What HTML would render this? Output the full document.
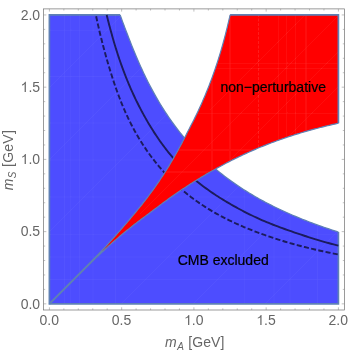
<!DOCTYPE html>
<html lang="en">
<head>
<meta charset="utf-8">
<title>Region plot</title>
<style>
html,body{margin:0;padding:0;background:#fff;}
body{width:349px;height:351px;overflow:hidden;font-family:"Liberation Sans",sans-serif;}
svg{display:block;will-change:transform;}
svg text{font-family:"Liberation Sans",sans-serif;}
</style>
</head>
<body>
<svg width="349" height="351" viewBox="0 0 349 351">
<rect x="0" y="0" width="349" height="351" fill="#ffffff"/>
<defs><filter id="soft" x="0" y="0" width="349" height="351" filterUnits="userSpaceOnUse"><feGaussianBlur stdDeviation="0.32"/></filter></defs>
<g filter="url(#soft)">
<!-- CMB excluded region -->
<path d="M49.40 303.85 L49.40 14.95 L120.17 14.95 L120.62 16.19 L121.47 18.54 L122.33 20.88 L123.20 23.21 L124.07 25.54 L124.95 27.87 L125.83 30.19 L126.72 32.51 L127.62 34.84 L128.52 37.16 L129.42 39.48 L130.33 41.80 L131.24 44.11 L132.16 46.42 L133.09 48.71 L134.02 51.00 L134.96 53.28 L135.90 55.55 L136.86 57.80 L137.82 60.04 L138.79 62.27 L139.77 64.48 L140.76 66.68 L141.75 68.87 L142.76 71.03 L143.77 73.19 L144.79 75.33 L145.82 77.45 L146.86 79.56 L147.91 81.66 L148.97 83.73 L150.04 85.80 L151.12 87.85 L152.21 89.88 L153.30 91.90 L154.41 93.91 L155.52 95.89 L156.65 97.87 L157.79 99.83 L158.93 101.77 L160.09 103.70 L161.26 105.61 L162.44 107.51 L163.62 109.39 L164.82 111.26 L166.03 113.11 L167.25 114.95 L168.49 116.77 L169.73 118.57 L170.98 120.37 L172.25 122.14 L173.53 123.91 L174.82 125.65 L176.12 127.39 L177.43 129.11 L178.75 130.81 L180.09 132.51 L181.43 134.18 L182.79 135.85 L184.16 137.50 L185.54 139.13 L186.94 140.75 L188.35 142.36 L189.76 143.96 L191.20 145.54 L192.64 147.11 L194.10 148.67 L195.56 150.21 L197.05 151.74 L198.54 153.26 L200.05 154.76 L201.56 156.25 L203.10 157.73 L204.64 159.20 L206.20 160.65 L207.77 162.10 L209.35 163.53 L210.95 164.94 L212.56 166.35 L214.19 167.74 L215.82 169.13 L217.48 170.49 L219.14 171.85 L220.82 173.20 L222.51 174.53 L224.22 175.86 L225.94 177.17 L227.67 178.47 L229.42 179.76 L231.18 181.03 L232.96 182.30 L234.75 183.56 L236.55 184.80 L238.37 186.03 L240.21 187.26 L242.06 188.47 L243.92 189.67 L245.80 190.86 L247.69 192.04 L249.60 193.21 L251.53 194.37 L253.46 195.52 L255.42 196.65 L257.39 197.78 L259.37 198.90 L261.37 200.01 L263.39 201.11 L265.42 202.19 L267.47 203.27 L269.53 204.34 L271.61 205.40 L273.70 206.45 L275.81 207.49 L277.94 208.51 L280.08 209.53 L282.24 210.55 L284.42 211.55 L286.61 212.54 L288.82 213.52 L291.05 214.50 L293.29 215.46 L295.55 216.42 L297.82 217.36 L300.12 218.30 L302.42 219.23 L304.75 220.15 L307.09 221.06 L309.45 221.97 L311.83 222.86 L314.22 223.75 L316.63 224.63 L319.05 225.50 L321.49 226.37 L323.95 227.22 L326.42 228.07 L328.91 228.91 L331.41 229.74 L333.93 230.57 L336.47 231.38 L338.40 232.00 L338.40 303.85 Z" fill="#4d4dff"/>
<path d="M120.17 14.95 L120.62 16.19 L121.47 18.54 L122.33 20.88 L123.20 23.21 L124.07 25.54 L124.95 27.87 L125.83 30.19 L126.72 32.51 L127.62 34.84 L128.52 37.16 L129.42 39.48 L130.33 41.80 L131.24 44.11 L132.16 46.42 L133.09 48.71 L134.02 51.00 L134.96 53.28 L135.90 55.55 L136.86 57.80 L137.82 60.04 L138.79 62.27 L139.77 64.48 L140.76 66.68 L141.75 68.87 L142.76 71.03 L143.77 73.19 L144.79 75.33 L145.82 77.45 L146.86 79.56 L147.91 81.66 L148.97 83.73 L150.04 85.80 L151.12 87.85 L152.21 89.88 L153.30 91.90 L154.41 93.91 L155.52 95.89 L156.65 97.87 L157.79 99.83 L158.93 101.77 L160.09 103.70 L161.26 105.61 L162.44 107.51 L163.62 109.39 L164.82 111.26 L166.03 113.11 L167.25 114.95 L168.49 116.77 L169.73 118.57 L170.98 120.37 L172.25 122.14 L173.53 123.91 L174.82 125.65 L176.12 127.39 L177.43 129.11 L178.75 130.81 L180.09 132.51 L181.43 134.18 L182.79 135.85 L184.16 137.50 L185.54 139.13 L186.94 140.75 L188.35 142.36 L189.76 143.96 L191.20 145.54 L192.64 147.11 L194.10 148.67 L195.56 150.21 L197.05 151.74 L198.54 153.26 L200.05 154.76 L201.56 156.25 L203.10 157.73 L204.64 159.20 L206.20 160.65 L207.77 162.10 L209.35 163.53 L210.95 164.94 L212.56 166.35 L214.19 167.74 L215.82 169.13 L217.48 170.49 L219.14 171.85 L220.82 173.20 L222.51 174.53 L224.22 175.86 L225.94 177.17 L227.67 178.47 L229.42 179.76 L231.18 181.03 L232.96 182.30 L234.75 183.56 L236.55 184.80 L238.37 186.03 L240.21 187.26 L242.06 188.47 L243.92 189.67 L245.80 190.86 L247.69 192.04 L249.60 193.21 L251.53 194.37 L253.46 195.52 L255.42 196.65 L257.39 197.78 L259.37 198.90 L261.37 200.01 L263.39 201.11 L265.42 202.19 L267.47 203.27 L269.53 204.34 L271.61 205.40 L273.70 206.45 L275.81 207.49 L277.94 208.51 L280.08 209.53 L282.24 210.55 L284.42 211.55 L286.61 212.54 L288.82 213.52 L291.05 214.50 L293.29 215.46 L295.55 216.42 L297.82 217.36 L300.12 218.30 L302.42 219.23 L304.75 220.15 L307.09 221.06 L309.45 221.97 L311.83 222.86 L314.22 223.75 L316.63 224.63 L319.05 225.50 L321.49 226.37 L323.95 227.22 L326.42 228.07 L328.91 228.91 L331.41 229.74 L333.93 230.57 L336.47 231.38 L338.40 232.00" fill="none" stroke="#5e81b5" stroke-width="1.2"/>
<path d="M338.40 232.00 L338.40 303.85 L49.40 303.85 L49.40 14.95 L120.17 14.95" fill="none" stroke="#5e81b5" stroke-width="1.7" stroke-linejoin="miter"/>
<!-- faint triangulation artefacts inside the filled regions -->
<clipPath id="cb"><path d="M49.40 303.85 L49.40 14.95 L120.17 14.95 L120.62 16.19 L121.47 18.54 L122.33 20.88 L123.20 23.21 L124.07 25.54 L124.95 27.87 L125.83 30.19 L126.72 32.51 L127.62 34.84 L128.52 37.16 L129.42 39.48 L130.33 41.80 L131.24 44.11 L132.16 46.42 L133.09 48.71 L134.02 51.00 L134.96 53.28 L135.90 55.55 L136.86 57.80 L137.82 60.04 L138.79 62.27 L139.77 64.48 L140.76 66.68 L141.75 68.87 L142.76 71.03 L143.77 73.19 L144.79 75.33 L145.82 77.45 L146.86 79.56 L147.91 81.66 L148.97 83.73 L150.04 85.80 L151.12 87.85 L152.21 89.88 L153.30 91.90 L154.41 93.91 L155.52 95.89 L156.65 97.87 L157.79 99.83 L158.93 101.77 L160.09 103.70 L161.26 105.61 L162.44 107.51 L163.62 109.39 L164.82 111.26 L166.03 113.11 L167.25 114.95 L168.49 116.77 L169.73 118.57 L170.98 120.37 L172.25 122.14 L173.53 123.91 L174.82 125.65 L176.12 127.39 L177.43 129.11 L178.75 130.81 L180.09 132.51 L181.43 134.18 L182.79 135.85 L184.16 137.50 L185.54 139.13 L186.94 140.75 L188.35 142.36 L189.76 143.96 L191.20 145.54 L192.64 147.11 L194.10 148.67 L195.56 150.21 L197.05 151.74 L198.54 153.26 L200.05 154.76 L201.56 156.25 L203.10 157.73 L204.64 159.20 L206.20 160.65 L207.77 162.10 L209.35 163.53 L210.95 164.94 L212.56 166.35 L214.19 167.74 L215.82 169.13 L217.48 170.49 L219.14 171.85 L220.82 173.20 L222.51 174.53 L224.22 175.86 L225.94 177.17 L227.67 178.47 L229.42 179.76 L231.18 181.03 L232.96 182.30 L234.75 183.56 L236.55 184.80 L238.37 186.03 L240.21 187.26 L242.06 188.47 L243.92 189.67 L245.80 190.86 L247.69 192.04 L249.60 193.21 L251.53 194.37 L253.46 195.52 L255.42 196.65 L257.39 197.78 L259.37 198.90 L261.37 200.01 L263.39 201.11 L265.42 202.19 L267.47 203.27 L269.53 204.34 L271.61 205.40 L273.70 206.45 L275.81 207.49 L277.94 208.51 L280.08 209.53 L282.24 210.55 L284.42 211.55 L286.61 212.54 L288.82 213.52 L291.05 214.50 L293.29 215.46 L295.55 216.42 L297.82 217.36 L300.12 218.30 L302.42 219.23 L304.75 220.15 L307.09 221.06 L309.45 221.97 L311.83 222.86 L314.22 223.75 L316.63 224.63 L319.05 225.50 L321.49 226.37 L323.95 227.22 L326.42 228.07 L328.91 228.91 L331.41 229.74 L333.93 230.57 L336.47 231.38 L338.40 232.00 L338.40 303.85 Z"/></clipPath>
<clipPath id="cr"><path d="M49.40 303.85 L51.21 302.04 L53.01 300.24 L54.82 298.43 L56.62 296.63 L58.42 294.82 L60.23 293.02 L62.03 291.21 L63.83 289.41 L65.63 287.60 L67.44 285.79 L69.24 283.99 L71.04 282.18 L72.83 280.38 L74.63 278.57 L76.43 276.77 L78.23 274.96 L80.02 273.15 L81.82 271.35 L83.62 269.54 L85.41 267.74 L87.19 265.93 L88.96 264.13 L90.71 262.32 L92.46 260.52 L94.20 258.71 L95.93 256.90 L97.64 255.10 L99.34 253.29 L101.04 251.49 L102.71 249.68 L104.38 247.88 L106.03 246.07 L107.67 244.26 L109.32 242.46 L110.96 240.65 L112.59 238.85 L114.22 237.04 L115.84 235.24 L117.45 233.43 L119.05 231.63 L120.64 229.82 L122.22 228.01 L123.78 226.21 L125.34 224.40 L126.88 222.60 L128.42 220.79 L129.95 218.99 L131.48 217.18 L132.99 215.37 L134.50 213.57 L136.00 211.76 L137.49 209.96 L138.97 208.15 L140.44 206.35 L141.89 204.54 L143.32 202.74 L144.74 200.93 L146.14 199.12 L147.51 197.32 L148.87 195.51 L150.22 193.71 L151.54 191.90 L152.86 190.10 L154.16 188.29 L155.45 186.48 L156.72 184.68 L157.97 182.87 L159.20 181.07 L160.42 179.26 L161.62 177.46 L162.81 175.65 L163.99 173.85 L165.15 172.04 L166.29 170.23 L167.41 168.43 L168.51 166.62 L169.60 164.82 L170.67 163.01 L171.74 161.21 L172.80 159.40 L173.86 157.59 L174.89 155.79 L175.92 153.98 L176.94 152.18 L177.94 150.37 L178.93 148.57 L179.92 146.76 L180.90 144.96 L181.86 143.15 L182.81 141.34 L183.74 139.54 L184.67 137.73 L185.59 135.93 L186.50 134.12 L187.42 132.32 L188.34 130.51 L189.27 128.70 L190.21 126.90 L191.14 125.09 L192.08 123.29 L193.00 121.48 L193.92 119.68 L194.83 117.87 L195.72 116.07 L196.59 114.26 L197.45 112.45 L198.30 110.65 L199.14 108.84 L199.97 107.04 L200.79 105.23 L201.60 103.43 L202.40 101.62 L203.19 99.81 L203.97 98.01 L204.74 96.20 L205.49 94.40 L206.24 92.59 L206.98 90.79 L207.70 88.98 L208.42 87.18 L209.13 85.37 L209.83 83.56 L210.52 81.76 L211.20 79.95 L211.87 78.15 L212.53 76.34 L213.18 74.54 L213.82 72.73 L214.45 70.92 L215.08 69.12 L215.69 67.31 L216.29 65.51 L216.89 63.70 L217.48 61.90 L218.06 60.09 L218.63 58.29 L219.19 56.48 L219.75 54.67 L220.29 52.87 L220.83 51.06 L221.36 49.26 L221.88 47.45 L222.39 45.65 L222.90 43.84 L223.40 42.03 L223.89 40.23 L224.38 38.42 L224.85 36.62 L225.32 34.81 L225.79 33.01 L226.24 31.20 L226.70 29.40 L227.14 27.59 L227.58 25.78 L228.01 23.98 L228.44 22.17 L228.86 20.37 L229.27 18.56 L229.68 16.76 L230.08 14.95 L338.40 14.95 L338.40 123.23 L336.59 123.63 L334.79 124.04 L332.98 124.45 L331.18 124.87 L329.37 125.30 L327.56 125.73 L325.76 126.17 L323.95 126.62 L322.14 127.07 L320.34 127.52 L318.53 127.99 L316.72 128.46 L314.92 128.93 L313.11 129.42 L311.31 129.91 L309.50 130.41 L307.69 130.92 L305.89 131.43 L304.08 131.95 L302.27 132.48 L300.47 133.02 L298.66 133.56 L296.86 134.12 L295.05 134.68 L293.24 135.25 L291.44 135.83 L289.63 136.42 L287.82 137.01 L286.02 137.62 L284.21 138.23 L282.41 138.85 L280.60 139.49 L278.79 140.13 L276.99 140.78 L275.18 141.44 L273.38 142.11 L271.57 142.79 L269.76 143.47 L267.96 144.17 L266.15 144.88 L264.34 145.60 L262.54 146.33 L260.73 147.06 L258.93 147.81 L257.12 148.57 L255.31 149.33 L253.51 150.11 L251.70 150.90 L249.89 151.70 L248.09 152.51 L246.28 153.33 L244.48 154.16 L242.67 155.00 L240.86 155.85 L239.06 156.71 L237.25 157.59 L235.44 158.47 L233.64 159.36 L231.83 160.27 L230.03 161.18 L228.22 162.11 L226.41 163.04 L224.61 163.99 L222.80 164.95 L220.99 165.93 L219.19 166.91 L217.38 167.90 L215.58 168.90 L213.77 169.91 L211.96 170.94 L210.16 171.98 L208.35 173.03 L206.54 174.09 L204.74 175.16 L202.93 176.24 L201.12 177.33 L199.32 178.43 L197.51 179.54 L195.71 180.67 L193.90 181.80 L192.09 182.95 L190.29 184.11 L188.48 185.28 L186.68 186.46 L184.87 187.65 L183.06 188.85 L181.26 190.06 L179.45 191.29 L177.64 192.53 L175.84 193.77 L174.03 195.03 L172.23 196.29 L170.42 197.57 L168.61 198.85 L166.81 200.15 L165.00 201.46 L163.19 202.79 L161.39 204.14 L159.58 205.49 L157.78 206.86 L155.97 208.23 L154.16 209.60 L152.36 210.97 L150.55 212.33 L148.74 213.68 L146.94 215.02 L145.13 216.37 L143.32 217.71 L141.52 219.06 L139.71 220.42 L137.91 221.79 L136.10 223.17 L134.29 224.58 L132.49 226.00 L130.68 227.43 L128.88 228.88 L127.07 230.34 L125.26 231.81 L123.46 233.29 L121.65 234.80 L119.84 236.33 L118.04 237.87 L116.23 239.41 L114.43 240.97 L112.62 242.54 L110.81 244.13 L109.01 245.74 L107.20 247.38 L105.39 249.04 L103.59 250.71 L101.78 252.38 L99.97 254.05 L98.17 255.72 L96.36 257.39 L94.56 259.08 L92.75 260.80 L90.94 262.55 L89.14 264.30 L87.33 266.07 L85.53 267.85 L83.72 269.65 L81.91 271.44 L80.11 273.24 L78.30 275.03 L76.49 276.83 L74.69 278.63 L72.88 280.42 L71.08 282.22 L69.27 284.02 L67.46 285.82 L65.66 287.62 L63.85 289.42 L62.04 291.22 L60.24 293.03 L58.43 294.83 L56.62 296.63 L54.82 298.44 L53.01 300.24 L51.21 302.04 L49.40 303.85 Z"/></clipPath>
<g clip-path="url(#cb)" stroke="#ffffff" stroke-opacity="0.045" stroke-width="0.9" fill="none">
<path d="M64.5 14V304 M79.4 14V304 M70.8 14V304 M93.1 14V304 M115.5 14V304 M244.2 150V304 M274 150V304 M290 150V304 M317.6 150V304"/>
<path d="M49 30.2H200 M49 76.5H200 M49 196.9H339 M49 234.7H339 M49 257H339 M49 279.4H339 M49 123H200 M49 160H200"/>
<path d="M49 160L195 14 M49 232L267 14 M49 88L123 14 M121 304L339 86 M193 304L339 158 M265 304L339 230"/>
</g>
<!-- contour lines -->
<path d="M106.69 14.95 L107.06 16.42 L107.73 19.11 L108.41 21.79 L109.09 24.45 L109.78 27.08 L110.48 29.70 L111.19 32.29 L111.90 34.87 L112.62 37.42 L113.35 39.96 L114.08 42.47 L114.83 44.96 L115.58 47.43 L116.34 49.88 L117.11 52.31 L117.88 54.71 L118.67 57.09 L119.46 59.45 L120.26 61.79 L121.07 64.11 L121.90 66.41 L122.72 68.68 L123.56 70.93 L124.41 73.17 L125.27 75.38 L126.13 77.58 L127.01 79.75 L127.89 81.91 L128.79 84.05 L129.69 86.17 L130.60 88.27 L131.52 90.36 L132.45 92.43 L133.39 94.48 L134.34 96.52 L135.30 98.54 L136.27 100.54 L137.24 102.53 L138.23 104.50 L139.22 106.46 L140.23 108.40 L141.24 110.33 L142.26 112.25 L143.29 114.15 L144.33 116.03 L145.38 117.90 L146.44 119.76 L147.51 121.61 L148.58 123.44 L149.67 125.25 L150.77 127.05 L151.87 128.84 L152.99 130.61 L154.11 132.37 L155.25 134.11 L156.39 135.84 L157.55 137.55 L158.72 139.25 L159.89 140.94 L161.08 142.61 L162.28 144.26 L163.49 145.91 L164.72 147.53 L165.95 149.14 L167.19 150.74 L168.45 152.32 L169.72 153.89 L171.00 155.44 L172.30 156.98 L173.60 158.51 L174.92 160.01 L176.26 161.51 L177.60 162.99 L178.96 164.45 L180.34 165.90 L181.72 167.34 L183.12 168.76 L184.54 170.17 L185.97 171.56 L187.42 172.94 L188.88 174.30 L190.36 175.65 L191.85 176.98 L193.36 178.30 L194.89 179.61 L196.43 180.90 L197.99 182.18 L199.57 183.45 L201.16 184.70 L202.77 185.94 L204.40 187.16 L206.04 188.38 L207.70 189.58 L209.37 190.77 L211.07 191.95 L212.77 193.12 L214.50 194.28 L216.24 195.42 L217.99 196.56 L219.76 197.69 L221.54 198.81 L223.34 199.91 L225.16 201.01 L226.99 202.10 L228.83 203.18 L230.68 204.26 L232.55 205.32 L234.44 206.38 L236.33 207.43 L238.24 208.47 L240.16 209.50 L242.09 210.53 L244.04 211.54 L246.00 212.55 L247.97 213.55 L249.96 214.54 L251.97 215.52 L254.00 216.49 L256.05 217.45 L258.11 218.40 L260.20 219.34 L262.31 220.27 L264.44 221.19 L266.60 222.09 L268.78 222.99 L270.98 223.87 L273.21 224.75 L275.45 225.62 L277.72 226.47 L280.01 227.32 L282.31 228.17 L284.63 229.00 L286.96 229.83 L289.31 230.65 L291.66 231.47 L294.03 232.28 L296.40 233.09 L298.78 233.89 L301.17 234.69 L303.56 235.49 L305.97 236.27 L308.39 237.05 L310.82 237.83 L313.27 238.60 L315.73 239.35 L318.22 240.11 L320.72 240.85 L323.25 241.58 L325.80 242.31 L328.38 243.03 L330.98 243.74 L333.62 244.43 L336.29 245.12 L338.40 245.65" fill="none" stroke="#1b1b5c" stroke-width="1.9"/>
<path d="M96.15 16.32 L96.71 18.94 L97.27 21.53 L97.84 24.11 L98.42 26.66 L99.00 29.18 L99.59 31.69 L100.19 34.18 L100.79 36.65 L101.40 39.10 L102.02 41.54 L102.64 43.96 L103.27 46.36 L103.90 48.74 L104.54 51.11 L105.19 53.47 L105.84 55.81 L106.49 58.14 L107.16 60.45 L107.82 62.76 L108.50 65.05 L109.18 67.32 L109.86 69.58 L110.55 71.83 L111.25 74.06 L111.95 76.28 L112.66 78.48 L113.38 80.66 L114.10 82.83 L114.83 84.98 L115.57 87.12 L116.32 89.24 L117.07 91.34 L117.83 93.42 L118.59 95.48 L119.37 97.53 L120.15 99.56 L120.94 101.57 L121.74 103.56 L122.55 105.53 L123.37 107.48 L124.19 109.41 L125.03 111.33 L125.88 113.22 L126.73 115.10 L127.59 116.96 L128.47 118.79 L129.35 120.62 L130.25 122.42 L131.15 124.21 L132.06 125.98 L132.98 127.73 L133.92 129.47 L134.86 131.19 L135.81 132.89 L136.77 134.58 L137.74 136.26 L138.73 137.92 L139.72 139.56 L140.72 141.19 L141.73 142.80 L142.76 144.40 L143.79 145.99 L144.83 147.56 L145.89 149.12 L146.95 150.67 L148.02 152.20 L149.11 153.72 L150.20 155.23 L151.31 156.72 L152.42 158.20 L153.55 159.67 L154.69 161.13 L155.83 162.57 L156.99 164.01 L158.15 165.43 L159.33 166.84 L160.52 168.24 L161.72 169.62 L162.93 170.99 L164.15 172.36 L165.39 173.71 L166.63 175.04 L167.88 176.37 L169.15 177.69 L170.43 178.99 L171.72 180.28 L173.03 181.56 L174.34 182.83 L175.67 184.08 L177.01 185.33 L178.36 186.56 L179.73 187.78 L181.11 188.99 L182.50 190.19 L183.90 191.38 L185.32 192.55 L186.75 193.72 L188.20 194.87 L189.66 196.01 L191.14 197.15 L192.62 198.27 L194.13 199.38 L195.65 200.47 L197.18 201.56 L198.73 202.64 L200.29 203.71 L201.87 204.76 L203.46 205.81 L205.07 206.84 L206.69 207.87 L208.33 208.89 L209.98 209.89 L211.65 210.89 L213.34 211.88 L215.04 212.85 L216.76 213.82 L218.49 214.78 L220.24 215.73 L222.00 216.67 L223.79 217.60 L225.58 218.52 L227.40 219.43 L229.23 220.34 L231.08 221.23 L232.94 222.12 L234.83 223.00 L236.72 223.87 L238.64 224.73 L240.57 225.58 L242.52 226.43 L244.49 227.26 L246.48 228.09 L248.48 228.91 L250.50 229.73 L252.53 230.53 L254.59 231.33 L256.66 232.12 L258.75 232.90 L260.86 233.68 L262.99 234.44 L265.13 235.21 L267.30 235.96 L269.48 236.70 L271.68 237.44 L273.90 238.17 L276.14 238.90 L278.40 239.61 L280.68 240.32 L282.98 241.02 L285.30 241.72 L287.65 242.40 L290.01 243.08 L292.40 243.76 L294.81 244.42 L297.24 245.08 L299.69 245.73 L302.17 246.38 L304.67 247.02 L307.19 247.65 L309.74 248.27 L312.31 248.89 L314.91 249.50 L317.53 250.10 L320.18 250.70 L322.85 251.29 L325.54 251.88 L328.27 252.46 L331.01 253.03 L333.79 253.59 L336.59 254.15 L338.40 254.51" fill="none" stroke="#1b1b5c" stroke-width="1.9" stroke-dasharray="5.1 2.3"/>
<!-- degenerate tip of the wedge along the diagonal -->
<path d="M49.40 303.85 L110.09 243.18" fill="none" stroke="#5e81b5" stroke-width="1.9" stroke-linecap="butt"/>
<!-- non-perturbative region -->
<path d="M49.40 303.85 L51.21 302.04 L53.01 300.24 L54.82 298.43 L56.62 296.63 L58.42 294.82 L60.23 293.02 L62.03 291.21 L63.83 289.41 L65.63 287.60 L67.44 285.79 L69.24 283.99 L71.04 282.18 L72.83 280.38 L74.63 278.57 L76.43 276.77 L78.23 274.96 L80.02 273.15 L81.82 271.35 L83.62 269.54 L85.41 267.74 L87.19 265.93 L88.96 264.13 L90.71 262.32 L92.46 260.52 L94.20 258.71 L95.93 256.90 L97.64 255.10 L99.34 253.29 L101.04 251.49 L102.71 249.68 L104.38 247.88 L106.03 246.07 L107.67 244.26 L109.32 242.46 L110.96 240.65 L112.59 238.85 L114.22 237.04 L115.84 235.24 L117.45 233.43 L119.05 231.63 L120.64 229.82 L122.22 228.01 L123.78 226.21 L125.34 224.40 L126.88 222.60 L128.42 220.79 L129.95 218.99 L131.48 217.18 L132.99 215.37 L134.50 213.57 L136.00 211.76 L137.49 209.96 L138.97 208.15 L140.44 206.35 L141.89 204.54 L143.32 202.74 L144.74 200.93 L146.14 199.12 L147.51 197.32 L148.87 195.51 L150.22 193.71 L151.54 191.90 L152.86 190.10 L154.16 188.29 L155.45 186.48 L156.72 184.68 L157.97 182.87 L159.20 181.07 L160.42 179.26 L161.62 177.46 L162.81 175.65 L163.99 173.85 L165.15 172.04 L166.29 170.23 L167.41 168.43 L168.51 166.62 L169.60 164.82 L170.67 163.01 L171.74 161.21 L172.80 159.40 L173.86 157.59 L174.89 155.79 L175.92 153.98 L176.94 152.18 L177.94 150.37 L178.93 148.57 L179.92 146.76 L180.90 144.96 L181.86 143.15 L182.81 141.34 L183.74 139.54 L184.67 137.73 L185.59 135.93 L186.50 134.12 L187.42 132.32 L188.34 130.51 L189.27 128.70 L190.21 126.90 L191.14 125.09 L192.08 123.29 L193.00 121.48 L193.92 119.68 L194.83 117.87 L195.72 116.07 L196.59 114.26 L197.45 112.45 L198.30 110.65 L199.14 108.84 L199.97 107.04 L200.79 105.23 L201.60 103.43 L202.40 101.62 L203.19 99.81 L203.97 98.01 L204.74 96.20 L205.49 94.40 L206.24 92.59 L206.98 90.79 L207.70 88.98 L208.42 87.18 L209.13 85.37 L209.83 83.56 L210.52 81.76 L211.20 79.95 L211.87 78.15 L212.53 76.34 L213.18 74.54 L213.82 72.73 L214.45 70.92 L215.08 69.12 L215.69 67.31 L216.29 65.51 L216.89 63.70 L217.48 61.90 L218.06 60.09 L218.63 58.29 L219.19 56.48 L219.75 54.67 L220.29 52.87 L220.83 51.06 L221.36 49.26 L221.88 47.45 L222.39 45.65 L222.90 43.84 L223.40 42.03 L223.89 40.23 L224.38 38.42 L224.85 36.62 L225.32 34.81 L225.79 33.01 L226.24 31.20 L226.70 29.40 L227.14 27.59 L227.58 25.78 L228.01 23.98 L228.44 22.17 L228.86 20.37 L229.27 18.56 L229.68 16.76 L230.08 14.95 L338.40 14.95 L338.40 123.23 L336.59 123.63 L334.79 124.04 L332.98 124.45 L331.18 124.87 L329.37 125.30 L327.56 125.73 L325.76 126.17 L323.95 126.62 L322.14 127.07 L320.34 127.52 L318.53 127.99 L316.72 128.46 L314.92 128.93 L313.11 129.42 L311.31 129.91 L309.50 130.41 L307.69 130.92 L305.89 131.43 L304.08 131.95 L302.27 132.48 L300.47 133.02 L298.66 133.56 L296.86 134.12 L295.05 134.68 L293.24 135.25 L291.44 135.83 L289.63 136.42 L287.82 137.01 L286.02 137.62 L284.21 138.23 L282.41 138.85 L280.60 139.49 L278.79 140.13 L276.99 140.78 L275.18 141.44 L273.38 142.11 L271.57 142.79 L269.76 143.47 L267.96 144.17 L266.15 144.88 L264.34 145.60 L262.54 146.33 L260.73 147.06 L258.93 147.81 L257.12 148.57 L255.31 149.33 L253.51 150.11 L251.70 150.90 L249.89 151.70 L248.09 152.51 L246.28 153.33 L244.48 154.16 L242.67 155.00 L240.86 155.85 L239.06 156.71 L237.25 157.59 L235.44 158.47 L233.64 159.36 L231.83 160.27 L230.03 161.18 L228.22 162.11 L226.41 163.04 L224.61 163.99 L222.80 164.95 L220.99 165.93 L219.19 166.91 L217.38 167.90 L215.58 168.90 L213.77 169.91 L211.96 170.94 L210.16 171.98 L208.35 173.03 L206.54 174.09 L204.74 175.16 L202.93 176.24 L201.12 177.33 L199.32 178.43 L197.51 179.54 L195.71 180.67 L193.90 181.80 L192.09 182.95 L190.29 184.11 L188.48 185.28 L186.68 186.46 L184.87 187.65 L183.06 188.85 L181.26 190.06 L179.45 191.29 L177.64 192.53 L175.84 193.77 L174.03 195.03 L172.23 196.29 L170.42 197.57 L168.61 198.85 L166.81 200.15 L165.00 201.46 L163.19 202.79 L161.39 204.14 L159.58 205.49 L157.78 206.86 L155.97 208.23 L154.16 209.60 L152.36 210.97 L150.55 212.33 L148.74 213.68 L146.94 215.02 L145.13 216.37 L143.32 217.71 L141.52 219.06 L139.71 220.42 L137.91 221.79 L136.10 223.17 L134.29 224.58 L132.49 226.00 L130.68 227.43 L128.88 228.88 L127.07 230.34 L125.26 231.81 L123.46 233.29 L121.65 234.80 L119.84 236.33 L118.04 237.87 L116.23 239.41 L114.43 240.97 L112.62 242.54 L110.81 244.13 L109.01 245.74 L107.20 247.38 L105.39 249.04 L103.59 250.71 L101.78 252.38 L99.97 254.05 L98.17 255.72 L96.36 257.39 L94.56 259.08 L92.75 260.80 L90.94 262.55 L89.14 264.30 L87.33 266.07 L85.53 267.85 L83.72 269.65 L81.91 271.44 L80.11 273.24 L78.30 275.03 L76.49 276.83 L74.69 278.63 L72.88 280.42 L71.08 282.22 L69.27 284.02 L67.46 285.82 L65.66 287.62 L63.85 289.42 L62.04 291.22 L60.24 293.03 L58.43 294.83 L56.62 296.63 L54.82 298.44 L53.01 300.24 L51.21 302.04 L49.40 303.85 Z" fill="#ff0000"/>
<g clip-path="url(#cr)" stroke="#ffffff" stroke-opacity="0.08" stroke-width="0.9" fill="none">
<path d="M258.7 14V150" stroke-opacity="0.16" stroke-dasharray="3 1.5"/>
<path d="M278.3 14V150 M286.9 14V150 M295.5 14V150 M306 14V150 M230 14V200 M212 60V200"/>
<path d="M150 63.3H339 M150 113.2H339 M150 68.5H339 M150 150H260 M150 172H230"/>
<path d="M160 230L339 51 M195 230L339 86 M140 214L339 15 M210 110L306 14"/>
</g>
<path d="M49.40 303.85 L51.21 302.04 L53.01 300.24 L54.82 298.43 L56.62 296.63 L58.42 294.82 L60.23 293.02 L62.03 291.21 L63.83 289.41 L65.63 287.60 L67.44 285.79 L69.24 283.99 L71.04 282.18 L72.83 280.38 L74.63 278.57 L76.43 276.77 L78.23 274.96 L80.02 273.15 L81.82 271.35 L83.62 269.54 L85.41 267.74 L87.19 265.93 L88.96 264.13 L90.71 262.32 L92.46 260.52 L94.20 258.71 L95.93 256.90 L97.64 255.10 L99.34 253.29 L101.04 251.49 L102.71 249.68 L104.38 247.88 L106.03 246.07 L107.67 244.26 L109.32 242.46 L110.96 240.65 L112.59 238.85 L114.22 237.04 L115.84 235.24 L117.45 233.43 L119.05 231.63 L120.64 229.82 L122.22 228.01 L123.78 226.21 L125.34 224.40 L126.88 222.60 L128.42 220.79 L129.95 218.99 L131.48 217.18 L132.99 215.37 L134.50 213.57 L136.00 211.76 L137.49 209.96 L138.97 208.15 L140.44 206.35 L141.89 204.54 L143.32 202.74 L144.74 200.93 L146.14 199.12 L147.51 197.32 L148.87 195.51 L150.22 193.71 L151.54 191.90 L152.86 190.10 L154.16 188.29 L155.45 186.48 L156.72 184.68 L157.97 182.87 L159.20 181.07 L160.42 179.26 L161.62 177.46 L162.81 175.65 L163.99 173.85 L165.15 172.04 L166.29 170.23 L167.41 168.43 L168.51 166.62 L169.60 164.82 L170.67 163.01 L171.74 161.21 L172.80 159.40 L173.86 157.59 L174.89 155.79 L175.92 153.98 L176.94 152.18 L177.94 150.37 L178.93 148.57 L179.92 146.76 L180.90 144.96 L181.86 143.15 L182.81 141.34 L183.74 139.54 L184.67 137.73 L185.59 135.93 L186.50 134.12 L187.42 132.32 L188.34 130.51 L189.27 128.70 L190.21 126.90 L191.14 125.09 L192.08 123.29 L193.00 121.48 L193.92 119.68 L194.83 117.87 L195.72 116.07 L196.59 114.26 L197.45 112.45 L198.30 110.65 L199.14 108.84 L199.97 107.04 L200.79 105.23 L201.60 103.43 L202.40 101.62 L203.19 99.81 L203.97 98.01 L204.74 96.20 L205.49 94.40 L206.24 92.59 L206.98 90.79 L207.70 88.98 L208.42 87.18 L209.13 85.37 L209.83 83.56 L210.52 81.76 L211.20 79.95 L211.87 78.15 L212.53 76.34 L213.18 74.54 L213.82 72.73 L214.45 70.92 L215.08 69.12 L215.69 67.31 L216.29 65.51 L216.89 63.70 L217.48 61.90 L218.06 60.09 L218.63 58.29 L219.19 56.48 L219.75 54.67 L220.29 52.87 L220.83 51.06 L221.36 49.26 L221.88 47.45 L222.39 45.65 L222.90 43.84 L223.40 42.03 L223.89 40.23 L224.38 38.42 L224.85 36.62 L225.32 34.81 L225.79 33.01 L226.24 31.20 L226.70 29.40 L227.14 27.59 L227.58 25.78 L228.01 23.98 L228.44 22.17 L228.86 20.37 L229.27 18.56 L229.68 16.76 L230.08 14.95 M338.40 123.23 L336.59 123.63 L334.79 124.04 L332.98 124.45 L331.18 124.87 L329.37 125.30 L327.56 125.73 L325.76 126.17 L323.95 126.62 L322.14 127.07 L320.34 127.52 L318.53 127.99 L316.72 128.46 L314.92 128.93 L313.11 129.42 L311.31 129.91 L309.50 130.41 L307.69 130.92 L305.89 131.43 L304.08 131.95 L302.27 132.48 L300.47 133.02 L298.66 133.56 L296.86 134.12 L295.05 134.68 L293.24 135.25 L291.44 135.83 L289.63 136.42 L287.82 137.01 L286.02 137.62 L284.21 138.23 L282.41 138.85 L280.60 139.49 L278.79 140.13 L276.99 140.78 L275.18 141.44 L273.38 142.11 L271.57 142.79 L269.76 143.47 L267.96 144.17 L266.15 144.88 L264.34 145.60 L262.54 146.33 L260.73 147.06 L258.93 147.81 L257.12 148.57 L255.31 149.33 L253.51 150.11 L251.70 150.90 L249.89 151.70 L248.09 152.51 L246.28 153.33 L244.48 154.16 L242.67 155.00 L240.86 155.85 L239.06 156.71 L237.25 157.59 L235.44 158.47 L233.64 159.36 L231.83 160.27 L230.03 161.18 L228.22 162.11 L226.41 163.04 L224.61 163.99 L222.80 164.95 L220.99 165.93 L219.19 166.91 L217.38 167.90 L215.58 168.90 L213.77 169.91 L211.96 170.94 L210.16 171.98 L208.35 173.03 L206.54 174.09 L204.74 175.16 L202.93 176.24 L201.12 177.33 L199.32 178.43 L197.51 179.54 L195.71 180.67 L193.90 181.80 L192.09 182.95 L190.29 184.11 L188.48 185.28 L186.68 186.46 L184.87 187.65 L183.06 188.85 L181.26 190.06 L179.45 191.29 L177.64 192.53 L175.84 193.77 L174.03 195.03 L172.23 196.29 L170.42 197.57 L168.61 198.85 L166.81 200.15 L165.00 201.46 L163.19 202.79 L161.39 204.14 L159.58 205.49 L157.78 206.86 L155.97 208.23 L154.16 209.60 L152.36 210.97 L150.55 212.33 L148.74 213.68 L146.94 215.02 L145.13 216.37 L143.32 217.71 L141.52 219.06 L139.71 220.42 L137.91 221.79 L136.10 223.17 L134.29 224.58 L132.49 226.00 L130.68 227.43 L128.88 228.88 L127.07 230.34 L125.26 231.81 L123.46 233.29 L121.65 234.80 L119.84 236.33 L118.04 237.87 L116.23 239.41 L114.43 240.97 L112.62 242.54 L110.81 244.13 L109.01 245.74 L107.20 247.38 L105.39 249.04 L103.59 250.71 L101.78 252.38 L99.97 254.05 L98.17 255.72 L96.36 257.39 L94.56 259.08 L92.75 260.80 L90.94 262.55 L89.14 264.30 L87.33 266.07 L85.53 267.85 L83.72 269.65 L81.91 271.44 L80.11 273.24 L78.30 275.03 L76.49 276.83 L74.69 278.63 L72.88 280.42 L71.08 282.22 L69.27 284.02 L67.46 285.82 L65.66 287.62 L63.85 289.42 L62.04 291.22 L60.24 293.03 L58.43 294.83 L56.62 296.63 L54.82 298.44 L53.01 300.24 L51.21 302.04 L49.40 303.85" fill="none" stroke="#5e81b5" stroke-width="1.2"/>
<path d="M230.08 14.95 L338.40 14.95 L338.40 123.23" fill="none" stroke="#5e81b5" stroke-width="1.7" stroke-linejoin="miter"/>
</g>
<!-- frame -->
<rect x="43.6" y="8.9" width="300.80" height="301.10" fill="none" stroke="#707070" stroke-width="0.7"/>
<path d="M49.40 310.00 v-2.70 M49.40 8.90 v2.70 M43.60 303.85 h2.70 M344.40 303.85 h-2.70 M63.85 310.00 v-1.60 M63.85 8.90 v1.60 M43.60 289.41 h1.60 M344.40 289.41 h-1.60 M78.30 310.00 v-1.60 M78.30 8.90 v1.60 M43.60 274.96 h1.60 M344.40 274.96 h-1.60 M92.75 310.00 v-1.60 M92.75 8.90 v1.60 M43.60 260.52 h1.60 M344.40 260.52 h-1.60 M107.20 310.00 v-1.60 M107.20 8.90 v1.60 M43.60 246.07 h1.60 M344.40 246.07 h-1.60 M121.65 310.00 v-2.70 M121.65 8.90 v2.70 M43.60 231.63 h2.70 M344.40 231.63 h-2.70 M136.10 310.00 v-1.60 M136.10 8.90 v1.60 M43.60 217.18 h1.60 M344.40 217.18 h-1.60 M150.55 310.00 v-1.60 M150.55 8.90 v1.60 M43.60 202.74 h1.60 M344.40 202.74 h-1.60 M165.00 310.00 v-1.60 M165.00 8.90 v1.60 M43.60 188.29 h1.60 M344.40 188.29 h-1.60 M179.45 310.00 v-1.60 M179.45 8.90 v1.60 M43.60 173.85 h1.60 M344.40 173.85 h-1.60 M193.90 310.00 v-2.70 M193.90 8.90 v2.70 M43.60 159.40 h2.70 M344.40 159.40 h-2.70 M208.35 310.00 v-1.60 M208.35 8.90 v1.60 M43.60 144.96 h1.60 M344.40 144.96 h-1.60 M222.80 310.00 v-1.60 M222.80 8.90 v1.60 M43.60 130.51 h1.60 M344.40 130.51 h-1.60 M237.25 310.00 v-1.60 M237.25 8.90 v1.60 M43.60 116.07 h1.60 M344.40 116.07 h-1.60 M251.70 310.00 v-1.60 M251.70 8.90 v1.60 M43.60 101.62 h1.60 M344.40 101.62 h-1.60 M266.15 310.00 v-2.70 M266.15 8.90 v2.70 M43.60 87.18 h2.70 M344.40 87.18 h-2.70 M280.60 310.00 v-1.60 M280.60 8.90 v1.60 M43.60 72.73 h1.60 M344.40 72.73 h-1.60 M295.05 310.00 v-1.60 M295.05 8.90 v1.60 M43.60 58.29 h1.60 M344.40 58.29 h-1.60 M309.50 310.00 v-1.60 M309.50 8.90 v1.60 M43.60 43.84 h1.60 M344.40 43.84 h-1.60 M323.95 310.00 v-1.60 M323.95 8.90 v1.60 M43.60 29.40 h1.60 M344.40 29.40 h-1.60 M338.40 310.00 v-2.70 M338.40 8.90 v2.70 M43.60 14.95 h2.70 M344.40 14.95 h-2.70" fill="none" stroke="#8c8c8c" stroke-width="0.55"/>
<!-- tick labels -->
<g font-size="14" fill="#666666">
<text x="39.57" y="325.10">0.0</text>
<text x="20.64" y="308.55">0.0</text>
<text x="111.82" y="325.10">0.5</text>
<text x="20.64" y="236.33">0.5</text>
<path d="M189.29 325.10 L188.06 325.10 L188.06 317.26 Q187.61 317.68 186.89 318.11 Q186.17 318.53 185.59 318.74 L185.59 317.55 Q186.63 317.07 187.40 316.38 Q188.17 315.69 188.49 315.04 L189.29 315.04 Z"/><text x="191.85" y="325.10">.0</text>
<path d="M25.86 164.10 L24.63 164.10 L24.63 156.26 Q24.18 156.68 23.46 157.11 Q22.74 157.53 22.16 157.74 L22.16 156.55 Q23.20 156.07 23.97 155.38 Q24.74 154.69 25.06 154.04 L25.86 154.04 Z"/><text x="28.42" y="164.10">.0</text>
<path d="M261.54 325.10 L260.31 325.10 L260.31 317.26 Q259.86 317.68 259.14 318.11 Q258.42 318.53 257.84 318.74 L257.84 317.55 Q258.88 317.07 259.65 316.38 Q260.42 315.69 260.74 315.04 L261.54 315.04 Z"/><text x="264.10" y="325.10">.5</text>
<path d="M25.86 91.88 L24.63 91.88 L24.63 84.04 Q24.18 84.46 23.46 84.88 Q22.74 85.31 22.16 85.52 L22.16 84.33 Q23.20 83.84 23.97 83.15 Q24.74 82.46 25.06 81.81 L25.86 81.81 Z"/><text x="28.42" y="91.88">.5</text>
<text x="328.57" y="325.10">2.0</text>
<text x="20.64" y="19.65">2.0</text>
</g>
<!-- axis labels -->
<g font-size="14" fill="#666666">
<text x="164.9" y="346.6" font-style="italic">m</text>
<text x="177.2" y="349.6" font-style="italic" font-size="10">A</text>
<text x="188.2" y="346.6" letter-spacing="0.12">[GeV]</text>
<g transform="translate(13.0,189.7) rotate(-90)">
<text x="-0.5" y="0" font-style="italic">m</text>
<text x="11.5" y="3.0" font-style="italic" font-size="10">S</text>
<text x="22.7" y="0" letter-spacing="0.25">[GeV]</text>
</g>
</g>
<!-- in-plot labels -->
<g font-size="14" fill="#000000" stroke="#000000" stroke-width="0.22">
<text x="273.2" y="92.3" text-anchor="middle">non−perturbative</text>
<text x="223.2" y="265.4" text-anchor="middle">CMB excluded</text>
</g>
</svg>
</body>
</html>
